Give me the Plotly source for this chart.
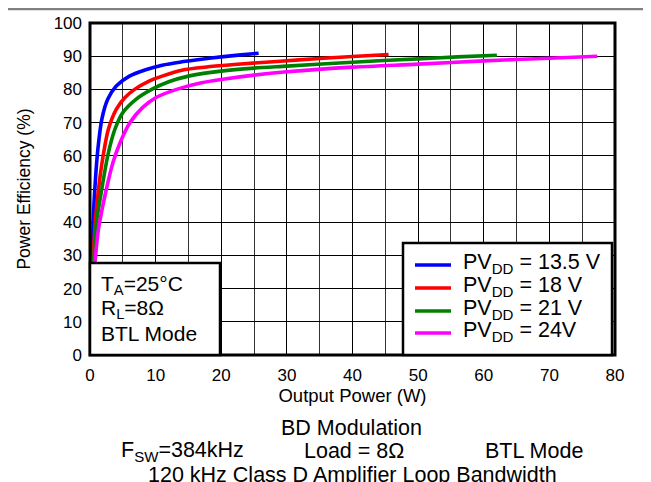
import plotly.graph_objects as go

# ---- data ----
blue_x = [0.35, 0.5, 0.8, 1.2, 1.8, 2.7, 4, 6, 8.6, 11, 14, 17, 20, 23, 25.7]
blue_y = [28, 41, 52, 62, 71, 77, 81, 84, 86, 87.3, 88.3, 89.1, 89.8, 90.4, 90.9]
red_x = [0.45, 0.8, 1.3, 2, 2.8, 4, 5.3, 6.8, 9, 11, 14, 18, 22, 29, 35, 40, 45.5]
red_y = [28, 40, 50, 60, 68, 74, 77.5, 80, 82.5, 84, 85.8, 86.8, 87.5, 88.5, 89.3, 89.9, 90.5]
green_x = [0.55, 1, 1.8, 2.7, 3.8, 5, 7, 9.4, 12, 15, 20, 25, 30, 40, 50, 56, 62]
green_y = [28, 40, 50, 60, 68, 73, 77, 80, 82.3, 84, 85.5, 86.4, 87, 88.2, 89.2, 89.8, 90.3]
mag_x = [0.76, 1.3, 2.5, 3.5, 4.6, 6.1, 8, 10, 13.2, 17, 20, 25, 30, 40, 50, 60, 70, 77.3]
mag_y = [28, 38, 50, 58, 64, 70, 74.5, 77.5, 80, 82, 83, 84.3, 85.3, 86.7, 87.6, 88.6, 89.4, 90]

series_names = ["PV<sub>DD</sub> = 13.5 V", "PV<sub>DD</sub> = 18 V",
                "PV<sub>DD</sub> = 21 V", "PV<sub>DD</sub> = 24V"]
series_colors = ["#0000ff", "#ff0000", "#008000", "#ff00ff"]
x_ticks = [0, 10, 20, 30, 40, 50, 60, 70, 80]
y_ticks = [0, 10, 20, 30, 40, 50, 60, 70, 80, 90, 100]
box_lines = ["T<sub>A</sub>=25°C", "R<sub>L</sub>=8Ω", "BTL Mode"]

FONT = "Arial, Liberation Sans, sans-serif"

# the page body adds an 8px margin; figure is sized to fit the 651x482 window
W, H = 643, 474
L, T, R, B = 82, 15, 36, 127
PW, PH = W - L - R, H - T - B


def px(screen_x):  # reference screen x -> paper fraction
    return (screen_x - 90) / PW


def py(screen_y):  # reference screen y -> paper fraction
    return (355 - screen_y) / PH


fig = go.Figure()
for xs, ys, name, col in zip([blue_x, red_x, green_x, mag_x],
                             [blue_y, red_y, green_y, mag_y],
                             series_names, series_colors):
    fig.add_trace(go.Scatter(x=xs, y=ys, mode="lines", name=name, showlegend=False,
                             line=dict(color=col, width=3.6, shape="spline", smoothing=0.8)))

fig.update_layout(
    width=W, height=H,
    margin=dict(l=L, r=R, t=T, b=B, autoexpand=False),
    paper_bgcolor="white", plot_bgcolor="white",
    font=dict(family=FONT, color="black", size=17),
    showlegend=False,
    xaxis=dict(range=[0, 80], tickvals=x_ticks, showgrid=True, gridcolor="black", gridwidth=1,
               minor=dict(dtick=5, showgrid=True, gridcolor="#333333", gridwidth=1),
               zeroline=False, showline=False, ticks="",
               tickfont=dict(size=17), ticklabelstandoff=8,
               title=dict(text="Output Power (W)", font=dict(size=18.5), standoff=2)),
    yaxis=dict(range=[0, 100], tickvals=y_ticks, showgrid=True, gridcolor="black", gridwidth=1,
               zeroline=False, showline=False, ticks="",
               tickfont=dict(size=17), ticklabelstandoff=7,
               title=dict(text="Power Efficiency (%)", font=dict(size=17.5), standoff=18)),
)

# plot frame
fig.add_shape(type="rect", xref="paper", yref="paper", x0=0, y0=0, x1=1, y1=1,
              line=dict(color="black", width=3), layer="above")

# conditions box
fig.add_shape(type="rect", xref="paper", yref="paper", x0=px(90), y0=py(355),
              x1=px(220), y1=py(263),
              fillcolor="white", line=dict(color="black", width=2.5), layer="above")
for txt, yc in zip(box_lines, [285, 309, 333]):
    fig.add_annotation(xref="paper", yref="paper", x=px(99), y=py(yc),
                       xanchor="left", yanchor="middle", align="left", showarrow=False,
                       text=txt, font=dict(size=21, family=FONT))

# legend box (drawn to match the reference legend layout)
fig.add_shape(type="rect", xref="paper", yref="paper", x0=px(403), y0=py(355),
              x1=px(612), y1=py(243),
              fillcolor="white", line=dict(color="black", width=2.5), layer="above")
for name, col, yc in zip(series_names, series_colors, [265, 288, 311, 333]):
    fig.add_shape(type="line", xref="paper", yref="paper", x0=px(415), x1=px(451),
                  y0=py(yc), y1=py(yc), line=dict(color=col, width=3.6), layer="above")
    fig.add_annotation(xref="paper", yref="paper", x=px(461), y=py(yc - 2),
                       xanchor="left", yanchor="middle", align="left", showarrow=False,
                       text=name, font=dict(size=21.5, family=FONT))

# top grey rule
fig.add_shape(type="line", xref="paper", yref="paper", x0=-0.2, x1=1.1,
              y0=1 + (T - 1) / PH, y1=1 + (T - 1) / PH,
              line=dict(color="#808080", width=2.5))

# bottom caption
fig.add_annotation(xref="paper", yref="paper", x=px(351), y=py(428),
                   yanchor="middle", showarrow=False, text="BD Modulation",
                   font=dict(size=21.5, family=FONT))
fig.add_annotation(xref="paper", yref="paper", x=px(119), y=py(451),
                   xanchor="left", yanchor="middle", showarrow=False,
                   text="F<sub>SW</sub>=384kHz", font=dict(size=21.5, family=FONT))
fig.add_annotation(xref="paper", yref="paper", x=px(302), y=py(451),
                   xanchor="left", yanchor="middle", showarrow=False,
                   text="Load = 8Ω", font=dict(size=21.5, family=FONT))
fig.add_annotation(xref="paper", yref="paper", x=px(534), y=py(451),
                   xanchor="center", yanchor="middle", showarrow=False,
                   text="BTL Mode", font=dict(size=21.5, family=FONT))
fig.add_annotation(xref="paper", yref="paper", x=px(352), y=py(475),
                   yanchor="middle", showarrow=False,
                   text="120 kHz Class D Amplifier Loop Bandwidth",
                   font=dict(size=21.5, family=FONT))

fig.write_html("out.html")
